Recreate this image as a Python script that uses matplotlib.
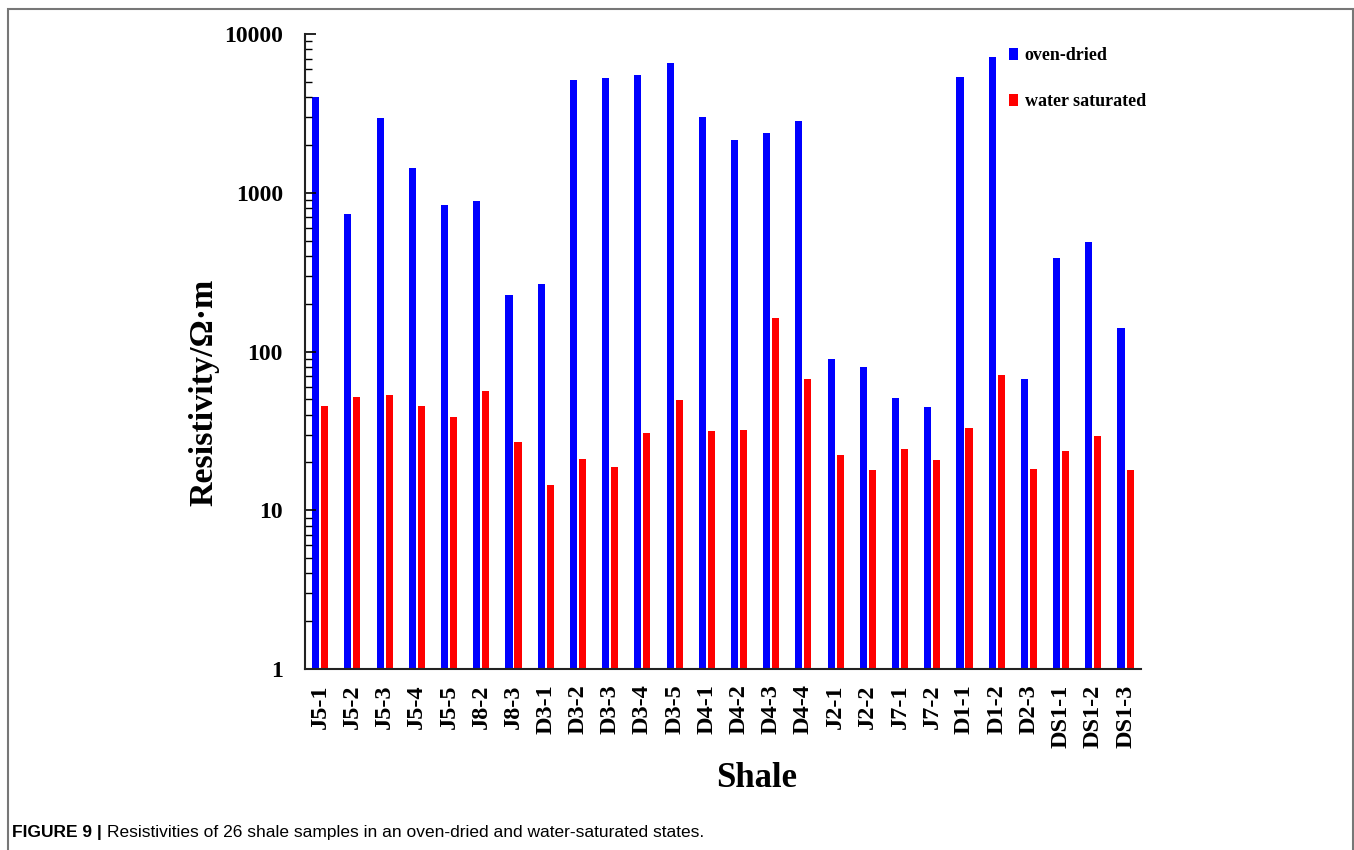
import numpy as np
import matplotlib
matplotlib.use("Agg")
import matplotlib.pyplot as plt
from matplotlib.patches import Rectangle
from matplotlib.ticker import LogLocator, FixedLocator, NullFormatter

# ── Sample names and measured resistivities (Ω·m) ─────────────────────
samples = ["J5-1", "J5-2", "J5-3", "J5-4", "J5-5", "J8-2", "J8-3", "D3-1",
           "D3-2", "D3-3", "D3-4", "D3-5", "D4-1", "D4-2", "D4-3", "D4-4",
           "J2-1", "J2-2", "J7-1", "J7-2", "D1-1", "D1-2", "D2-3",
           "DS1-1", "DS1-2", "DS1-3"]
oven_dried = [4030, 735, 2965, 1430, 842, 893, 228, 265,
              5150, 5300, 5540, 6560, 2995, 2144, 2362, 2826,
              89.5, 80.4, 50.8, 44.5, 5355, 7130, 66.9,
              388, 489, 141]
water_saturated = [45.2, 51.5, 53.5, 45.2, 38.7, 56.2, 26.8, 14.4,
                   21.1, 18.8, 30.7, 49.8, 31.4, 31.9, 163, 67.3,
                   22.3, 17.9, 24.4, 20.6, 33.0, 70.9, 18.1,
                   23.5, 29.4, 17.9]

SERIF = "Liberation Serif"
SANS = "Liberation Sans"

fig = plt.figure(figsize=(13.54, 8.5), dpi=100)
ax = fig.add_axes([0.2253, 0.2129, 0.6174, 0.7471])

x = np.arange(len(samples))
w = 0.22
ax.bar(x - 0.14, oven_dried, width=w, color="#0000FF", label="oven-dried")
ax.bar(x + 0.14, water_saturated, width=w, color="#FF0000", label="water saturated")

ax.set_yscale("log")
ax.set_ylim(1, 10000)
ax.set_xlim(-0.47, 25.48)

ax.yaxis.set_major_locator(FixedLocator([1, 10, 100, 1000, 10000]))
ax.yaxis.set_minor_locator(LogLocator(base=10, subs=np.arange(2, 10)))
ax.yaxis.set_minor_formatter(NullFormatter())
ax.set_yticklabels(["1", "10", "100", "1000", "10000"],
                   fontfamily=SERIF, fontweight="bold", fontsize=17)
ax.tick_params(axis="y", which="major", direction="in", length=8, width=1.2, pad=16)
ax.tick_params(axis="y", which="minor", direction="in", length=5, width=1.0)

ax.set_xticks(x)
ax.set_xticklabels(samples, rotation=90, fontfamily=SERIF,
                   fontweight="bold", fontsize=17.5)
ax.tick_params(axis="x", length=0, pad=11)

for side in ("top", "right"):
    ax.spines[side].set_visible(False)
for side in ("left", "bottom"):
    ax.spines[side].set_linewidth(1.5)
    ax.spines[side].set_color("#222222")

ax.set_ylabel("Resistivity/Ω·m", fontfamily=SERIF, fontweight="bold", fontsize=24.5)
ax.yaxis.set_label_coords(-0.102, 0.435)
ax.set_xlabel("Shale", fontfamily=SERIF, fontweight="bold", fontsize=25)
ax.xaxis.set_label_coords(0.54, -0.147)

ax.legend(loc="upper left", bbox_to_anchor=(0.823, 1.005), frameon=False,
          prop={"family": SERIF, "weight": "bold", "size": 13},
          handlelength=0.5, handleheight=0.65, handletextpad=0.35,
          labelspacing=1.6)

# outer frame and caption
fig.add_artist(Rectangle((8 / 1354, -0.02), 1345 / 1354, 0.02 + 841 / 850,
                         transform=fig.transFigure, fill=False,
                         edgecolor="#777777", linewidth=1.5))
cap_y = 1 - 837 / 850
head = fig.text(12 / 1354, cap_y, "FIGURE 9 |", fontfamily=SANS,
                fontweight="bold", fontsize=12.5, va="baseline", ha="left")
fig.canvas.draw()
bb = head.get_window_extent()
fig.text((bb.x1 + 5) / 1354, cap_y,
         "Resistivities of 26 shale samples in an oven-dried and water-saturated states.",
         fontfamily=SANS, fontsize=12.5, va="baseline", ha="left")

fig.savefig("out.png", dpi=100)
